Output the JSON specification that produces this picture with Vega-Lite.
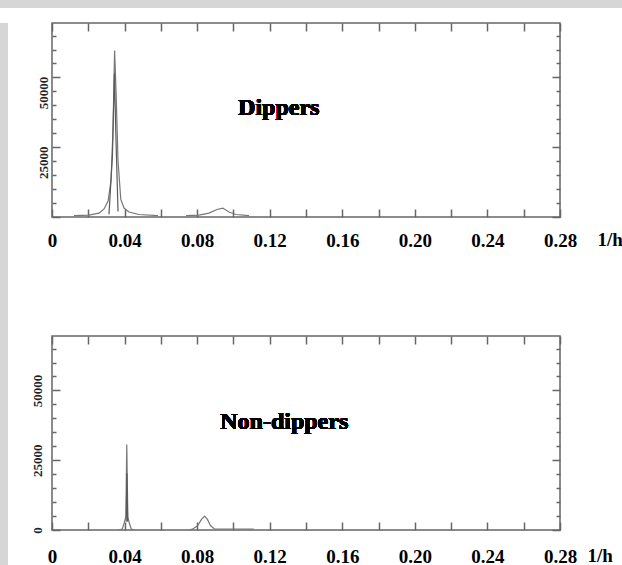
{
  "$schema": "https://vega.github.io/schema/vega-lite/v6.json",
  "background": "white",
  "padding": 0,
  "config": {
    "font": "Liberation Serif",
    "view": {"stroke": "#666666", "strokeWidth": 1.5},
    "axis": {"grid": false, "domain": false, "labelFlush": false, "labelOverlap": false, "labelBound": false, "tickColor": "#666666", "tickWidth": 1.5}
  },
  "datasets": {
    "d": [
      {"panel": "Dippers", "series": "a", "seg": 1, "f": 0.0121, "p": 500},
      {"panel": "Dippers", "series": "a", "seg": 1, "f": 0.0204, "p": 700},
      {"panel": "Dippers", "series": "a", "seg": 1, "f": 0.0259, "p": 1400},
      {"panel": "Dippers", "series": "a", "seg": 1, "f": 0.0287, "p": 2900},
      {"panel": "Dippers", "series": "a", "seg": 1, "f": 0.0309, "p": 5700},
      {"panel": "Dippers", "series": "a", "seg": 1, "f": 0.0325, "p": 12900},
      {"panel": "Dippers", "series": "a", "seg": 1, "f": 0.0336, "p": 30700},
      {"panel": "Dippers", "series": "a", "seg": 1, "f": 0.0345, "p": 59600},
      {"panel": "Dippers", "series": "a", "seg": 1, "f": 0.0353, "p": 45000},
      {"panel": "Dippers", "series": "a", "seg": 1, "f": 0.0364, "p": 20000},
      {"panel": "Dippers", "series": "a", "seg": 1, "f": 0.0379, "p": 6400},
      {"panel": "Dippers", "series": "a", "seg": 1, "f": 0.0397, "p": 3200},
      {"panel": "Dippers", "series": "a", "seg": 1, "f": 0.0424, "p": 1800},
      {"panel": "Dippers", "series": "a", "seg": 1, "f": 0.0479, "p": 900},
      {"panel": "Dippers", "series": "a", "seg": 1, "f": 0.0584, "p": 500},
      {"panel": "Dippers", "series": "a", "seg": 2, "f": 0.0739, "p": 500},
      {"panel": "Dippers", "series": "a", "seg": 2, "f": 0.0810, "p": 700},
      {"panel": "Dippers", "series": "a", "seg": 2, "f": 0.0865, "p": 1400},
      {"panel": "Dippers", "series": "a", "seg": 2, "f": 0.0909, "p": 2700},
      {"panel": "Dippers", "series": "a", "seg": 2, "f": 0.0942, "p": 3200},
      {"panel": "Dippers", "series": "a", "seg": 2, "f": 0.0975, "p": 1800},
      {"panel": "Dippers", "series": "a", "seg": 2, "f": 0.1014, "p": 900},
      {"panel": "Dippers", "series": "a", "seg": 2, "f": 0.1086, "p": 500},
      {"panel": "Dippers", "series": "b", "seg": 3, "f": 0.0314, "p": 1000},
      {"panel": "Dippers", "series": "b", "seg": 3, "f": 0.0333, "p": 21800},
      {"panel": "Dippers", "series": "b", "seg": 3, "f": 0.0344, "p": 51400},
      {"panel": "Dippers", "series": "b", "seg": 3, "f": 0.0353, "p": 27000},
      {"panel": "Dippers", "series": "b", "seg": 3, "f": 0.0364, "p": 2000},
      {"panel": "Non-dippers", "series": "a", "seg": 4, "f": 0.0365, "p": 0},
      {"panel": "Non-dippers", "series": "a", "seg": 4, "f": 0.0387, "p": 300},
      {"panel": "Non-dippers", "series": "a", "seg": 4, "f": 0.0398, "p": 2500},
      {"panel": "Non-dippers", "series": "a", "seg": 4, "f": 0.0407, "p": 4700},
      {"panel": "Non-dippers", "series": "a", "seg": 4, "f": 0.0412, "p": 30600},
      {"panel": "Non-dippers", "series": "a", "seg": 4, "f": 0.0418, "p": 4700},
      {"panel": "Non-dippers", "series": "a", "seg": 4, "f": 0.0426, "p": 2500},
      {"panel": "Non-dippers", "series": "a", "seg": 4, "f": 0.0437, "p": 300},
      {"panel": "Non-dippers", "series": "a", "seg": 4, "f": 0.0454, "p": 0},
      {"panel": "Non-dippers", "series": "a", "seg": 5, "f": 0.0752, "p": 0},
      {"panel": "Non-dippers", "series": "a", "seg": 5, "f": 0.0774, "p": 300},
      {"panel": "Non-dippers", "series": "a", "seg": 5, "f": 0.0802, "p": 1500},
      {"panel": "Non-dippers", "series": "a", "seg": 5, "f": 0.0824, "p": 3800},
      {"panel": "Non-dippers", "series": "a", "seg": 5, "f": 0.0841, "p": 5000},
      {"panel": "Non-dippers", "series": "a", "seg": 5, "f": 0.0857, "p": 3800},
      {"panel": "Non-dippers", "series": "a", "seg": 5, "f": 0.0874, "p": 1500},
      {"panel": "Non-dippers", "series": "a", "seg": 5, "f": 0.0896, "p": 400},
      {"panel": "Non-dippers", "series": "a", "seg": 5, "f": 0.0929, "p": 350},
      {"panel": "Non-dippers", "series": "a", "seg": 5, "f": 0.1040, "p": 350},
      {"panel": "Non-dippers", "series": "a", "seg": 5, "f": 0.1112, "p": 300},
      {"panel": "Non-dippers", "series": "b", "seg": 6, "f": 0.0409, "p": 3000},
      {"panel": "Non-dippers", "series": "b", "seg": 6, "f": 0.0413, "p": 20300},
      {"panel": "Non-dippers", "series": "b", "seg": 6, "f": 0.0417, "p": 3000}
    ]
  },
  "spacing": 0,
  "vconcat": [
    {
      "data": {"values": [{}]},
      "mark": {"type": "point", "opacity": 0},
      "width": 622,
      "height": 8,
      "view": {"fill": "#d6d6d6", "stroke": null}
    },
    {
      "spacing": 0,
      "hconcat": [
        {
          "data": {"values": [{}]},
          "mark": {"type": "point", "opacity": 0},
          "width": 8,
          "height": 557,
          "view": {"fill": "#d6d6d6", "stroke": null}
        },
        {
          "spacing": 83,
          "vconcat": [
            {
              "width": 508,
              "height": 194,
              "data": {"name": "d"},
              "transform": [{"filter": "datum.panel == 'Dippers'"}],
              "resolve": {"axis": {"x": "independent", "y": "independent"}},
              "layer": [
                {
                  "mark": {"type": "line", "strokeWidth": 1.2, "clip": true},
                  "encoding": {
                    "x": {"field": "f", "type": "quantitative", "scale": {"domain": [0, 0.28], "nice": false, "zero": false},
                      "axis": {"orient": "bottom", "values": [0, 0.02, 0.04, 0.06, 0.08, 0.1, 0.12, 0.14, 0.16, 0.18, 0.2, 0.22, 0.24, 0.26, 0.28],
                        "tickSize": -8, "labelPadding": 22, "labelFontSize": 19, "labelFontWeight": "bold", "labelColor": "black",
                        "labelExpr": "datum.value == 0 ? '0' : (round(datum.value * 100) % 4 == 0 ? format(datum.value, '.2f') : '')",
                        "title": "1/h", "titleFontSize": 19, "titleFontWeight": "bold", "titleColor": "black", "titleAngle": 0,
                        "titleX": 545, "titleY": 22, "titleAlign": "left", "titleBaseline": "middle"}},
                    "y": {"field": "p", "type": "quantitative", "scale": {"domain": [0, 69500], "nice": false},
                      "axis": {"orient": "left", "values": [0, 5000, 10000, 15000, 20000, 25000, 30000, 35000, 40000, 45000, 50000, 55000, 60000, 65000],
                        "tickSize": {"condition": {"test": "datum.value % 25000 == 0", "value": -8}, "value": -4},
                        "labelExpr": "datum.value == 25000 || datum.value == 50000 ? datum.label : ''",
                        "format": "d", "labelAngle": -90, "labelAlign": "center", "labelBaseline": "bottom", "labelPadding": 10, "labelOffset": 15,
                        "labelFontSize": 13, "labelFontWeight": "bold", "labelColor": "#222", "minExtent": 43, "title": null}},
                    "detail": {"field": "seg"},
                    "color": {"field": "series", "type": "nominal", "scale": {"domain": ["a", "b"], "range": ["#777777", "#5a5a5a"]}, "legend": null}
                  }
                },
                {
                  "mark": {"type": "text", "text": "Dippers", "fontSize": 24, "fontWeight": "bold", "font": "Liberation Serif", "color": "black", "align": "center", "baseline": "middle"},
                  "encoding": {
                    "x": {"datum": 0.125, "type": "quantitative", "axis": {"orient": "top", "values": [0, 0.02, 0.04, 0.06, 0.08, 0.1, 0.12, 0.14, 0.16, 0.18, 0.2, 0.22, 0.24, 0.26, 0.28], "tickSize": -8, "labels": false, "title": null, "minExtent": 14}},
                    "y": {"datum": 38900, "type": "quantitative", "axis": {"orient": "right", "values": [0, 5000, 10000, 15000, 20000, 25000, 30000, 35000, 40000, 45000, 50000, 55000, 60000, 65000],
                      "tickSize": {"condition": {"test": "datum.value % 25000 == 0", "value": -8}, "value": -4}, "labels": false, "title": null}}
                  }
                }
              ]
            },
            {
              "width": 508,
              "height": 194,
              "data": {"name": "d"},
              "transform": [{"filter": "datum.panel == 'Non-dippers'"}],
              "resolve": {"axis": {"x": "independent", "y": "independent"}},
              "layer": [
                {
                  "mark": {"type": "line", "strokeWidth": 1.2, "clip": true},
                  "encoding": {
                    "x": {"field": "f", "type": "quantitative", "scale": {"domain": [0, 0.28], "nice": false, "zero": false},
                      "axis": {"orient": "bottom", "values": [0, 0.02, 0.04, 0.06, 0.08, 0.1, 0.12, 0.14, 0.16, 0.18, 0.2, 0.22, 0.24, 0.26, 0.28],
                        "tickSize": -8, "labelPadding": 25, "labelFontSize": 19, "labelFontWeight": "bold", "labelColor": "black",
                        "labelExpr": "datum.value == 0 ? '0' : (round(datum.value * 100) % 4 == 0 ? format(datum.value, '.2f') : '')",
                        "title": "1/h", "titleFontSize": 19, "titleFontWeight": "bold", "titleColor": "black", "titleAngle": 0,
                        "titleX": 535, "titleY": 25, "titleAlign": "left", "titleBaseline": "middle"}},
                    "y": {"field": "p", "type": "quantitative", "scale": {"domain": [0, 69500], "nice": false},
                      "axis": {"orient": "left", "values": [0, 5000, 10000, 15000, 20000, 25000, 30000, 35000, 40000, 45000, 50000, 55000, 60000, 65000],
                        "tickSize": {"condition": {"test": "datum.value % 25000 == 0", "value": -8}, "value": -4},
                        "labelExpr": "datum.value % 25000 == 0 ? datum.label : ''",
                        "format": "d", "labelAngle": -90, "labelAlign": "center", "labelBaseline": "bottom", "labelPadding": 16,
                        "labelFontSize": 13, "labelFontWeight": "bold", "labelColor": "#222", "minExtent": 43, "title": null}},
                    "detail": {"field": "seg"},
                    "color": {"field": "series", "type": "nominal", "scale": {"domain": ["a", "b"], "range": ["#777777", "#5a5a5a"]}, "legend": null}
                  }
                },
                {
                  "mark": {"type": "text", "text": "Non-dippers", "fontSize": 24, "fontWeight": "bold", "font": "Liberation Serif", "color": "black", "align": "center", "baseline": "middle"},
                  "encoding": {
                    "x": {"datum": 0.128, "type": "quantitative", "axis": {"orient": "top", "values": [0, 0.02, 0.04, 0.06, 0.08, 0.1, 0.12, 0.14, 0.16, 0.18, 0.2, 0.22, 0.24, 0.26, 0.28], "tickSize": -8, "labels": false, "title": null}},
                    "y": {"datum": 38600, "type": "quantitative", "axis": {"orient": "right", "values": [0, 5000, 10000, 15000, 20000, 25000, 30000, 35000, 40000, 45000, 50000, 55000, 60000, 65000],
                      "tickSize": {"condition": {"test": "datum.value % 25000 == 0", "value": -8}, "value": -4}, "labels": false, "title": null}}
                  }
                }
              ]
            }
          ]
        }
      ]
    }
  ]
}
